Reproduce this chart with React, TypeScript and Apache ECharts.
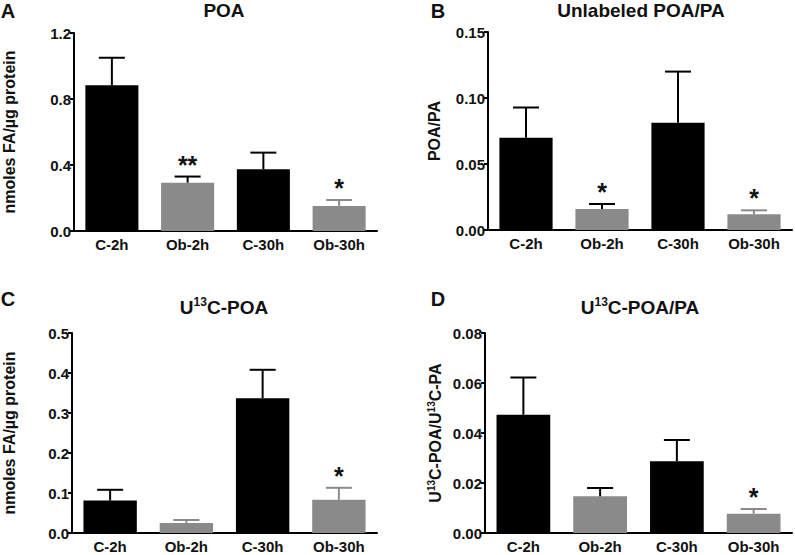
import React, { useEffect, useRef } from "react";
import * as echarts from "echarts";

const categories = ["C-2h", "Ob-2h", "C-30h", "Ob-30h"];

const poaMean = [0.883, 0.293, 0.374, 0.152];
const poaSem = [0.167, 0.037, 0.101, 0.036];
const poaSig = ["", "**", "", "*"];

const ratioMean = [0.0698, 0.0159, 0.0812, 0.0119];
const ratioSem = [0.023, 0.0038, 0.0388, 0.003];
const ratioSig = ["", "*", "", "*"];

const labPoaMean = [0.081, 0.025, 0.337, 0.083];
const labPoaSem = [0.027, 0.0075, 0.071, 0.03];
const labPoaSig = ["", "", "", "*"];

const labRatioMean = [0.0473, 0.0147, 0.0287, 0.0077];
const labRatioSem = [0.0149, 0.0033, 0.0085, 0.0019];
const labRatioSig = ["", "", "", "*"];

const BLACK = "#000000";
const GRAY = "#8a8a8a";
const barColors = [BLACK, GRAY, BLACK, GRAY];
const FONT = '"Liberation Sans", Arial, Helvetica, sans-serif';
const TXT = "#111111";

const panels = [
  {
    letter: "A", letterX: 8, letterY: 11,
    title: "POA", titleX: 224, titleY: 10,
    grid: { left: 72, top: 33, width: 305, height: 198 },
    max: 1.2, interval: 0.4, decimals: 1,
    yName: "nmoles FA/µg protein", nameGap: 57,
    mean: poaMean, sem: poaSem, sig: poaSig,
    errColors: [BLACK, BLACK, BLACK, GRAY],
  },
  {
    letter: "B", letterX: 438, letterY: 11,
    title: "Unlabeled POA/PA", titleX: 641, titleY: 10,
    grid: { left: 488, top: 32, width: 304, height: 198 },
    max: 0.15, interval: 0.05, decimals: 2,
    yName: "POA/PA", nameGap: 46,
    mean: ratioMean, sem: ratioSem, sig: ratioSig,
    errColors: [BLACK, BLACK, BLACK, GRAY],
  },
  {
    letter: "C", letterX: 8, letterY: 299,
    title: "{n|U}{s|13}{n|C-POA}", titleX: 224, titleY: 307,
    grid: { left: 70, top: 333, width: 307, height: 200 },
    max: 0.5, interval: 0.1, decimals: 1,
    yName: "nmoles FA/µg protein", nameGap: 55,
    mean: labPoaMean, sem: labPoaSem, sig: labPoaSig,
    errColors: [BLACK, GRAY, BLACK, GRAY],
  },
  {
    letter: "D", letterX: 438, letterY: 299,
    title: "{n|U}{s|13}{n|C-POA/PA}", titleX: 640, titleY: 307,
    grid: { left: 485, top: 333, width: 307, height: 200 },
    max: 0.08, interval: 0.02, decimals: 2,
    yName: "{n|U}{s|13}{n|C-POA/U}{s|13}{n|C-PA}", nameGap: 41,
    mean: labRatioMean, sem: labRatioSem, sig: labRatioSig,
    errColors: [BLACK, BLACK, BLACK, GRAY],
  },
];

function App() {
  const ref = useRef<HTMLDivElement>(null);
  useEffect(() => {
    if (!ref.current) return;
    const chart = echarts.init(ref.current, null, { renderer: "svg" });
    const grids: any[] = [];
    const xAxes: any[] = [];
    const yAxes: any[] = [];
    const series: any[] = [];
    const graphics: any[] = [];

    panels.forEach((p, i) => {
      grids.push({ ...p.grid, containLabel: false });
      xAxes.push({
        type: "category",
        gridIndex: i,
        data: categories,
        axisLine: { lineStyle: { color: "#000", width: 2 } },
        axisTick: { alignWithLabel: true, length: 4, lineStyle: { width: 2, color: "#000" } },
        axisLabel: { fontSize: 15, fontWeight: "bold", color: TXT, fontFamily: FONT, margin: 6 },
      });
      yAxes.push({
        type: "value",
        gridIndex: i,
        min: 0,
        max: p.max,
        interval: p.interval,
        name: p.yName,
        nameLocation: "middle",
        nameGap: p.nameGap,
        nameTextStyle: {
          fontSize: 16, fontWeight: "bold", color: TXT, fontFamily: FONT,
          rich: {
            n: { fontSize: 16, fontWeight: "bold", color: TXT, fontFamily: FONT, lineHeight: 18 },
            s: { fontSize: 10, fontWeight: "bold", color: TXT, fontFamily: FONT, verticalAlign: "top", lineHeight: 18, padding: [0, 0, 6, 0] },
          },
        },
        axisLine: { show: true, lineStyle: { color: "#000", width: 2 } },
        axisTick: { show: true, length: 4, lineStyle: { width: 2, color: "#000" } },
        splitLine: { show: false },
        axisLabel: {
          fontSize: 15, fontWeight: "bold", color: TXT, fontFamily: FONT, margin: 3,
          formatter: (v: number) => v.toFixed(p.decimals),
        },
      });
      series.push({
        type: "bar",
        xAxisIndex: i,
        yAxisIndex: i,
        barWidth: "70%",
        data: p.mean.map((v, k) => ({ value: v, itemStyle: { color: barColors[k] } })),
        z: 2,
      });
      const errData = p.mean.map((v, k) => [k, v, p.sem[k]]);
      series.push({
        type: "custom",
        xAxisIndex: i,
        yAxisIndex: i,
        z: 3,
        data: errData,
        renderItem: (params: any, api: any) => {
          const idx = api.value(0);
          const m = api.value(1);
          const s = api.value(2);
          const base = api.coord([idx, m]);
          const top = api.coord([idx, m + s]);
          const col = p.errColors[params.dataIndex];
          const half = 13;
          const children: any[] = [
            { type: "line", shape: { x1: base[0], y1: base[1], x2: top[0], y2: top[1] }, style: { stroke: col, lineWidth: 2 } },
            { type: "line", shape: { x1: top[0] - half, y1: top[1], x2: top[0] + half, y2: top[1] }, style: { stroke: col, lineWidth: 2 } },
          ];
          const sg = p.sig[params.dataIndex];
          if (sg) {
            children.push({
              type: "text",
              x: top[0],
              y: top[1] - 12,
              style: { text: sg, fontSize: 25, fontWeight: "bold", fontFamily: FONT, fill: TXT, align: "center", verticalAlign: "middle" },
            });
          }
          return { type: "group", children };
        },
      });
      graphics.push({
        type: "text",
        x: p.letterX,
        y: p.letterY,
        style: { text: p.letter, fontSize: 20, fontWeight: "bold", fontFamily: FONT, fill: TXT, align: "center", verticalAlign: "middle" },
      });
      graphics.push({
        type: "text",
        x: p.titleX,
        y: p.titleY,
        style: {
          text: p.title,
          fontSize: 19, fontWeight: "bold", fontFamily: FONT, fill: TXT, align: "center", verticalAlign: "middle",
          rich: {
            n: { fontSize: 19, fontWeight: "bold", fontFamily: FONT, fill: TXT, lineHeight: 22 },
            s: { fontSize: 12, fontWeight: "bold", fontFamily: FONT, fill: TXT, verticalAlign: "top", lineHeight: 22, padding: [0, 0, 8, 0] },
          },
        },
      });
    });

    chart.setOption({
      animation: false,
      backgroundColor: "#ffffff",
      grid: grids,
      xAxis: xAxes,
      yAxis: yAxes,
      series,
      graphic: graphics,
    });
    return () => chart.dispose();
  }, []);
  return <div ref={ref} style={{ position: "fixed", left: 0, top: 0, width: 795, height: 555 }} />;
}

export default App;
